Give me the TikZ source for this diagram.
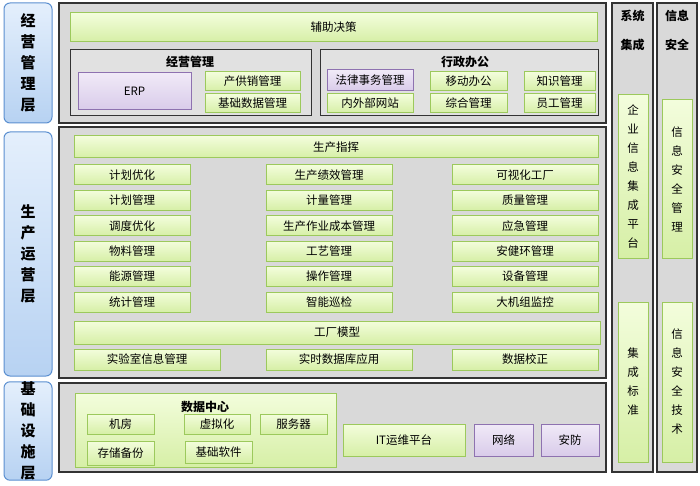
\documentclass[tikz,border=0pt]{standalone}
\usepackage{fontspec}
\setmainfont{Noto Sans CJK SC}
\definecolor{gfill1}{HTML}{F3FDDC}
\definecolor{gfill2}{HTML}{D6EFA6}
\definecolor{gline}{HTML}{9CC95C}
\definecolor{pfill1}{HTML}{F0EAF7}
\definecolor{pfill2}{HTML}{D9CBEA}
\definecolor{pline}{HTML}{8E72B0}
\definecolor{bfill1}{HTML}{E4EFFC}
\definecolor{bfill2}{HTML}{B7D2F2}
\definecolor{bline}{HTML}{5B8FD0}
\definecolor{panel}{HTML}{D9D9D9}
\tikzset{
 base/.style={inner sep=0pt, outer sep=0pt, font=\fontsize{11.5}{13}\selectfont, align=center},
 gbox/.style={base, draw=gline, line width=1pt, top color=gfill1, bottom color=gfill2},
 pbox/.style={base, draw=pline, line width=1pt, top color=pfill1, bottom color=pfill2},
 vbox/.style={gbox, font=\fontsize{11.5}{19}\selectfont},
 lbox/.style={base, draw=bline, line width=1pt, rounded corners=6pt, top color=bfill1, bottom color=bfill2, font=\fontsize{15}{21}\selectfont\bfseries},
 panelbox/.style={base, draw=black!80, line width=1.2pt, fill=panel},
 subpanel/.style={base, draw=black!80, line width=1pt, fill=panel!80},
 ttl/.style={font=\fontsize{12}{13}\selectfont\bfseries, inner sep=0pt},
}
\newcommand{\bx}[7]{\node[#1, minimum width={(#5-#3)*1pt}, minimum height={(#6-#4)*1pt}] (#2) at ({(#3+#5)/2},{(#4+#6)/2}) {#7};}
\begin{document}
\begin{tikzpicture}[x=1pt,y=-1pt]
\useasboundingbox (0,0) rectangle (700,486);
% left labels
\bx{lbox}{l1}{4}{3}{52}{123}{经\\营\\管\\理\\层}
\bx{lbox}{l2}{4}{132}{52}{376}{生\\产\\运\\营\\层}
\bx{lbox}{l3}{4}{384}{52}{478}{基\\础\\设\\施\\层}
% panels
\bx{panelbox}{p1}{59}{3}{606}{123}{}
\bx{panelbox}{p2}{59}{127}{606}{378}{}
\bx{panelbox}{p3}{59}{383}{606}{472}{}
% right columns
\bx{panelbox}{c1}{612}{3}{653}{472}{}
\bx{panelbox}{c2}{657}{3}{697}{472}{}
\node[ttl] (c1t) at (632.5,16) {系统};
\node[ttl] (c1u) at (632.5,45) {集成};
\node[ttl] (c2t) at (677,16) {信息};
\node[ttl] (c2u) at (677,45) {安全};
\bx{vbox}{r1}{618}{95}{648}{258}{企\\业\\信\\息\\集\\成\\平\\台}
\bx{vbox}{r2}{618}{302}{648}{462}{集\\成\\标\\准}
\bx{vbox}{r3}{662}{100}{692}{258}{信\\息\\安\\全\\管\\理}
\bx{vbox}{r4}{662}{302}{692}{462}{信\\息\\安\\全\\技\\术}
% top panel
\bx{gbox}{fz}{70}{13}{597}{42}{辅助决策}
\bx{subpanel}{jy}{70}{50}{311}{116}{}
\node[ttl] (jyt) at (190,62) {经营管理};
\bx{pbox}{erp}{78}{73}{191}{110}{ERP}
\bx{gbox}{cg}{205}{72}{300}{91}{产供销管理}
\bx{gbox}{jc}{205}{94}{300}{113}{基础数据管理}
\bx{subpanel}{xz}{320}{50}{598}{116}{}
\node[ttl] (xzt) at (465,62) {行政办公};
\bx{pbox}{fl}{327}{70}{413}{91}{法律事务管理}
\bx{gbox}{nw}{327}{94}{413}{113}{内外部网站}
\bx{gbox}{yd}{430}{72}{507}{91}{移动办公}
\bx{gbox}{zh}{430}{94}{507}{113}{综合管理}
\bx{gbox}{zs}{524}{72}{595}{91}{知识管理}
\bx{gbox}{yg}{524}{94}{595}{113}{员工管理}
% middle panel
\bx{gbox}{sc}{74}{136}{598}{158}{生产指挥}
\foreach \t [count=\i] in {计划优化,计划管理,调度优化,物料管理,能源管理,统计管理}
  {\pgfmathsetmacro\yc{175+25.4*(\i-1)}\node[gbox,minimum width=116pt,minimum height=20pt] (a\i) at (132,\yc) {\t};}
\foreach \t [count=\i] in {生产绩效管理,计量管理,生产作业成本管理,工艺管理,操作管理,智能巡检}
  {\pgfmathsetmacro\yc{175+25.4*(\i-1)}\node[gbox,minimum width=126pt,minimum height=20pt] (b\i) at (329,\yc) {\t};}
\foreach \t [count=\i] in {可视化工厂,质量管理,应急管理,安健环管理,设备管理,大机组监控}
  {\pgfmathsetmacro\yc{175+25.4*(\i-1)}\node[gbox,minimum width=146pt,minimum height=20pt] (c\i) at (525,\yc) {\t};}
\bx{gbox}{gc}{74}{321}{600}{344}{工厂模型}
\bx{gbox}{sy}{74}{349}{220}{370}{实验室信息管理}
\bx{gbox}{ss}{266}{349}{412}{370}{实时数据库应用}
\bx{gbox}{jz}{452}{349}{598}{370}{数据校正}
% bottom panel
\bx{gbox}{dc}{75}{393}{336}{467}{}
\node[ttl] (dct) at (205,407) {数据中心};
\bx{gbox}{jf}{87}{414}{154}{434}{机房}
\bx{gbox}{xn}{184}{414}{250}{434}{虚拟化}
\bx{gbox}{fw}{260}{414}{327}{434}{服务器}
\bx{gbox}{cc}{87}{441}{154}{465}{存储备份}
\bx{gbox}{jr}{185}{441}{252}{463}{基础软件}
\bx{gbox}{it}{343}{424}{465}{456}{IT运维平台}
\bx{pbox}{wl}{474}{424}{533}{456}{网络}
\bx{pbox}{af}{541}{424}{599}{456}{安防}
\end{tikzpicture}
\end{document}
